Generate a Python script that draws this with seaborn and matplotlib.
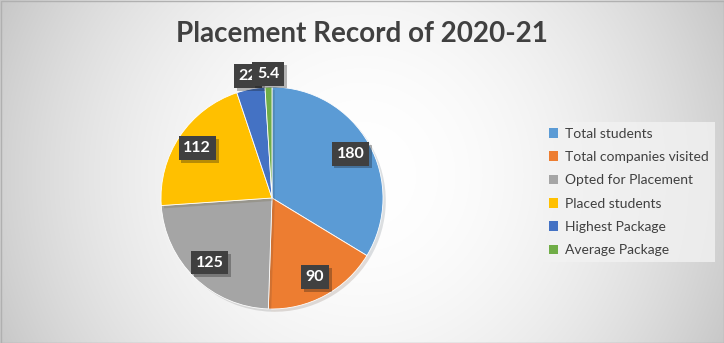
import numpy as np
import matplotlib
matplotlib.use("Agg")
import matplotlib.pyplot as plt
import matplotlib.patheffects as pe
from matplotlib.patches import Patch, Rectangle
import seaborn as sns

categories = ["Total students", "Total companies visited", "Opted for Placement",
              "Placed students", "Highest Package", "Average Package"]
values = [180, 90, 125, 112, 22, 5.4]
value_labels = ["180", "90", "125", "112", "22", "5.4"]
colors = ["#5B9BD5", "#ED7D31", "#A5A5A5", "#FFC000", "#4472C4", "#70AD47"]
title = "Placement Record of 2020-21"

sns.set_theme(style="white")
plt.rcParams['font.family'] = ['Lato', 'DejaVu Sans']

W, H = 724, 343
fig = plt.figure(figsize=(W / 100, H / 100), dpi=100)

# radial gradient background
bg = fig.add_axes([0, 0, 1, 1], zorder=-10)
yy, xx = np.mgrid[0:H, 0:W]
d = np.hypot(xx - 362, yy - 175) / 402.0
val = 1 - 0.22 * d ** 2
bg.imshow(np.dstack([val, val, val]), extent=[0, W, H, 0], aspect='auto')
bg.set_xlim(0, W); bg.set_ylim(H, 0)
bg.axis('off')
bg.add_patch(Rectangle((0.5, 0.5), W - 1, H - 1, fill=False, edgecolor="#b0b0b0", lw=1))

# pie axes
cx, cy, R = 272, 198, 111
lim = 1.2
S = 2 * lim * R
ax = fig.add_axes([(cx - S / 2) / W, (H - cy - S / 2) / H, S / W, S / H])
wedges, _ = ax.pie(values, colors=colors, startangle=90, counterclock=False,
                   wedgeprops=dict(linewidth=0.6, edgecolor="white"))
for w in wedges:
    w.set_path_effects([pe.SimplePatchShadow(offset=(2, -2), alpha=0.15), pe.Normal()])
ax.set_xlim(-lim, lim); ax.set_ylim(-lim, lim)
ax.set_aspect('auto')
ax.axis('off')

total = sum(values)
for w, v, lab in zip(wedges, values, value_labels):
    th = np.deg2rad((w.theta1 + w.theta2) / 2)
    dist = 0.81 if v / total > 0.1 else 1.12
    t = ax.text(dist * np.cos(th), dist * np.sin(th), lab, ha='center', va='center',
                color='white', fontsize=11.5, fontweight='bold',
                bbox=dict(boxstyle='square,pad=0.3', facecolor='#404040', edgecolor='none'))
    t.get_bbox_patch().set_path_effects([pe.SimplePatchShadow(offset=(2, -2), alpha=0.3), pe.Normal()])

fig.text(0.5, 1 - 34 / H, title, ha='center', va='center', fontsize=20,
         fontweight='bold', color='#404040')

handles = [Patch(facecolor=c, edgecolor='none') for c in colors]
leg = fig.legend(handles, categories, loc='upper left', bbox_to_anchor=(543 / W, 1 - 122 / H),
                 bbox_transform=fig.transFigure, frameon=True, fontsize=10,
                 handlelength=0.7, handleheight=0.7, handletextpad=0.5,
                 labelspacing=0.82, borderpad=0.4, borderaxespad=0, fancybox=False)
leg.get_frame().set_facecolor('#f2f2f2')
leg.get_frame().set_edgecolor('none')
leg.get_frame().set_alpha(0.8)
for txt in leg.get_texts():
    txt.set_color('#404040')

fig.savefig("out.png", dpi=100)
